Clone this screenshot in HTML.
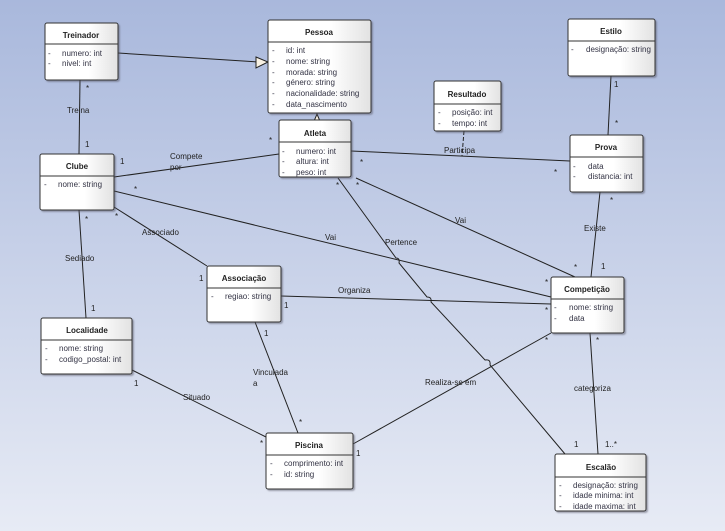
<!DOCTYPE html>
<html><head><meta charset="utf-8"><style>
html,body{margin:0;padding:0;width:725px;height:531px;overflow:hidden}
body{background:linear-gradient(#a9b8dc,#e7ebf5)}
svg{position:absolute;left:0;top:0}
text{font-family:"Liberation Sans",sans-serif;font-size:8px;fill:#222}
.t{font-weight:bold;text-anchor:middle}
.a{fill:#334}
</style></head><body>
<svg width="725" height="531" viewBox="0 0 725 531">
<defs>
<linearGradient id="g" x1="0" y1="0" x2="1" y2="0"><stop offset="0" stop-color="#fff"/><stop offset="0.6" stop-color="#fff"/><stop offset="1" stop-color="#e2e2e2"/></linearGradient>
<filter id="s"><feDropShadow dx="1.5" dy="1.5" stdDeviation="0.8" flood-color="#556" flood-opacity="0.5"/></filter>
</defs>
<g stroke="#222" stroke-width="1" fill="none">
<line x1="118" y1="53" x2="258" y2="62"/>
<line x1="80" y1="80" x2="79" y2="154"/>
<line x1="114" y1="177" x2="279" y2="154"/>
<line x1="114" y1="191" x2="551" y2="297"/>
<line x1="114" y1="207" x2="207" y2="266"/>
<line x1="79" y1="210" x2="86" y2="318"/>
<line x1="351" y1="151" x2="570" y2="161"/>
<line x1="464" y1="131" x2="462" y2="156" stroke-dasharray="4,2"/>
<path d="M338,178 L396,258 q4,0 3,5 L427,297 q5,0 4,5 L485,360 q6,-1 5,5 L565,454"/>
<line x1="356" y1="178" x2="575" y2="277"/>
<line x1="608" y1="135" x2="611" y2="76"/>
<line x1="600" y1="192" x2="591" y2="277"/>
<line x1="281" y1="296" x2="551" y2="304"/>
<line x1="255" y1="322" x2="298" y2="433"/>
<line x1="132" y1="370" x2="266" y2="437"/>
<line x1="353" y1="444" x2="551" y2="333"/>
<line x1="590" y1="333" x2="598" y2="454"/>
<line x1="317" y1="123" x2="317" y2="124"/>
</g>
<polygon points="256,57 268,62 256,68" fill="#f8f1e4" stroke="#222"/>
<polygon points="312,126 317,114 322,126" fill="#f8f1e4" stroke="#222"/>
<g filter="url(#s)" stroke="#333" fill="url(#g)">
<rect x="45" y="23" width="73" height="57" rx="2"/>
<rect x="268" y="20" width="103" height="93" rx="2"/>
<rect x="279" y="120" width="72" height="57" rx="2"/>
<rect x="40" y="154" width="74" height="56" rx="2"/>
<rect x="434" y="81" width="67" height="50" rx="2"/>
<rect x="568" y="19" width="87" height="57" rx="2"/>
<rect x="570" y="135" width="73" height="57" rx="2"/>
<rect x="207" y="266" width="74" height="56" rx="2"/>
<rect x="41" y="318" width="91" height="56" rx="2"/>
<rect x="551" y="277" width="73" height="56" rx="2"/>
<rect x="266" y="433" width="87" height="56" rx="2"/>
<rect x="555" y="454" width="91" height="57" rx="2"/>
</g>
<g stroke="#333">
<line x1="45" y1="44" x2="118" y2="44"/>
<line x1="268" y1="42" x2="371" y2="42"/>
<line x1="279" y1="142" x2="351" y2="142"/>
<line x1="40" y1="176" x2="114" y2="176"/>
<line x1="434" y1="104" x2="501" y2="104"/>
<line x1="568" y1="41" x2="655" y2="41"/>
<line x1="570" y1="157" x2="643" y2="157"/>
<line x1="207" y1="288" x2="281" y2="288"/>
<line x1="41" y1="340" x2="132" y2="340"/>
<line x1="551" y1="299" x2="624" y2="299"/>
<line x1="266" y1="455" x2="353" y2="455"/>
<line x1="555" y1="477" x2="646" y2="477"/>
</g>
<text class="t" x="81" y="38">Treinador</text>
<text class="a" x="48" y="56">-</text><text class="a" x="62" y="56">numero: int</text>
<text class="a" x="48" y="66">-</text><text class="a" x="62" y="66">nivel: int</text>
<text class="t" x="319" y="35">Pessoa</text>
<text class="a" x="272" y="53">-</text><text class="a" x="286" y="53">id: int</text>
<text class="a" x="272" y="64">-</text><text class="a" x="286" y="64">nome: string</text>
<text class="a" x="272" y="75">-</text><text class="a" x="286" y="75">morada: string</text>
<text class="a" x="272" y="85">-</text><text class="a" x="286" y="85">género: string</text>
<text class="a" x="272" y="96">-</text><text class="a" x="286" y="96">nacionalidade: string</text>
<text class="a" x="272" y="107">-</text><text class="a" x="286" y="107">data_nascimento</text>
<text class="t" x="315" y="136">Atleta</text>
<text class="a" x="282" y="154">-</text><text class="a" x="296" y="154">numero: int</text>
<text class="a" x="282" y="164">-</text><text class="a" x="296" y="164">altura: int</text>
<text class="a" x="282" y="175">-</text><text class="a" x="296" y="175">peso: int</text>
<text class="t" x="77" y="169">Clube</text>
<text class="a" x="44" y="187">-</text><text class="a" x="58" y="187">nome: string</text>
<text class="t" x="467" y="97">Resultado</text>
<text class="a" x="438" y="115">-</text><text class="a" x="452" y="115">posição: int</text>
<text class="a" x="438" y="126">-</text><text class="a" x="452" y="126">tempo: int</text>
<text class="t" x="611" y="34">Estilo</text>
<text class="a" x="571" y="52">-</text><text class="a" x="586" y="52">designação: string</text>
<text class="t" x="606" y="150">Prova</text>
<text class="a" x="573" y="169">-</text><text class="a" x="588" y="169">data</text>
<text class="a" x="573" y="179">-</text><text class="a" x="588" y="179">distancia: int</text>
<text class="t" x="244" y="281">Associação</text>
<text class="a" x="211" y="299">-</text><text class="a" x="225" y="299">regiao: string</text>
<text class="t" x="87" y="333">Localidade</text>
<text class="a" x="45" y="351">-</text><text class="a" x="59" y="351">nome: string</text>
<text class="a" x="45" y="362">-</text><text class="a" x="59" y="362">codigo_postal: int</text>
<text class="t" x="587" y="292">Competição</text>
<text class="a" x="554" y="310">-</text><text class="a" x="569" y="310">nome: string</text>
<text class="a" x="554" y="321">-</text><text class="a" x="569" y="321">data</text>
<text class="t" x="309" y="448">Piscina</text>
<text class="a" x="270" y="466">-</text><text class="a" x="284" y="466">comprimento: int</text>
<text class="a" x="270" y="477">-</text><text class="a" x="284" y="477">id: string</text>
<text class="t" x="601" y="470">Escalão</text>
<text class="a" x="559" y="488">-</text><text class="a" x="573" y="488">designação: string</text>
<text class="a" x="559" y="498">-</text><text class="a" x="573" y="498">idade minima: int</text>
<text class="a" x="559" y="509">-</text><text class="a" x="573" y="509">idade maxima: int</text>
<g>
<text x="67" y="113">Treina</text>
<text x="86" y="91">*</text><text x="85" y="147">1</text>
<text x="170" y="159">Compete</text><text x="170" y="170">por</text>
<text x="120" y="164">1</text><text x="269" y="143">*</text>
<text x="325" y="240">Vai</text><text x="134" y="192">*</text>
<text x="142" y="235">Associado</text><text x="115" y="219">*</text><text x="199" y="281">1</text>
<text x="65" y="261">Sediado</text><text x="91" y="311">1</text><text x="85" y="222">*</text>
<text x="444" y="153">Participa</text><text x="360" y="165">*</text><text x="554" y="175">*</text>
<text x="385" y="245">Pertence</text><text x="336" y="188">*</text><text x="574" y="447">1</text>
<text x="455" y="223">Vai</text><text x="356" y="188">*</text><text x="574" y="270">*</text>
<text x="614" y="87">1</text><text x="615" y="126">*</text>
<text x="584" y="231">Existe</text><text x="610" y="203">*</text><text x="601" y="269">1</text>
<text x="338" y="293">Organiza</text><text x="284" y="308">1</text><text x="545" y="285">*</text><text x="545" y="313">*</text>
<text x="253" y="375">Vinculada</text><text x="253" y="386">a</text><text x="264" y="336">1</text><text x="299" y="425">*</text>
<text x="183" y="400">Situado</text><text x="134" y="386">1</text><text x="260" y="446">*</text>
<text x="425" y="385">Realiza-se em</text><text x="356" y="456">1</text><text x="545" y="343">*</text>
<text x="574" y="391">categoriza</text><text x="596" y="343">*</text><text x="605" y="447">1..*</text>
</g>
</svg>
</body></html>
